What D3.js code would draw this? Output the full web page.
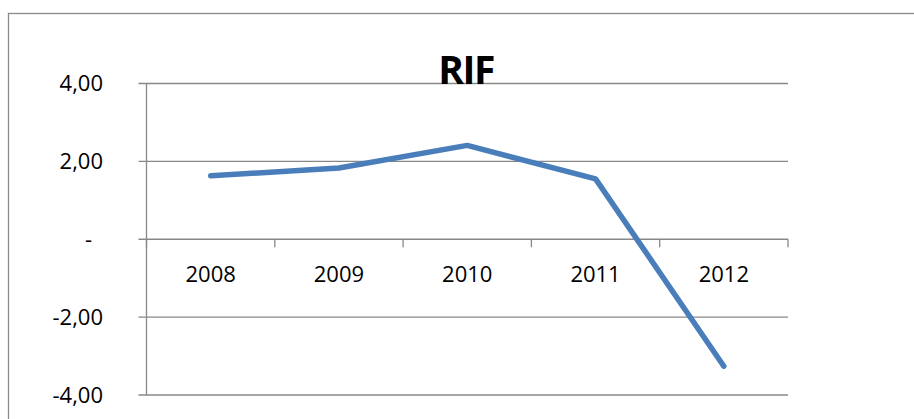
<!DOCTYPE html>
<html>
<head>
<meta charset="utf-8">
<script src="https://cdn.jsdelivr.net/npm/d3@7"></script>
<style>
  body { margin: 0; background: #fff; }
  svg { display: block; }
  text { font-family: "Open Sans", "Liberation Sans", Arial, sans-serif; fill: #000; }
</style>
</head>
<body>
<div id="chart"></div>
<script>
// values
var years = ["2008", "2009", "2010", "2011", "2012"];
var rif = [1.63, 1.83, 2.41, 1.55, -3.26];
var yTicks = [-4, -2, 0, 2, 4];

var width = 914, height = 419;
var plotLeft = 146.5, plotRight = 788, plotTop = 83.5, plotBottom = 395;

var svg = d3.select("#chart")
    .append("svg")
    .attr("width", width)
    .attr("height", height);

// outer chart border (runs off the right and bottom edge)
svg.append("rect")
    .attr("x", 8.5)
    .attr("y", 13.5)
    .attr("width", 920)
    .attr("height", 430)
    .style("fill", "none")
    .style("stroke", "#8a8a8a")
    .style("stroke-width", 1.3);

var x = d3.scaleBand().domain(years).range([plotLeft, plotRight]);
var y = d3.scaleLinear().domain([-4, 4]).range([plotBottom, plotTop]);

var fmt = function(d) {
  if (d === 0) return "-";
  return d3.format(".2f")(d).replace(".", ",").replace("\u2212", "-");
};

// gridlines + left ticks
svg.selectAll("line.grid")
    .data(yTicks)
    .enter().append("line")
    .attr("class", "grid")
    .attr("x1", plotLeft - 8)
    .attr("x2", plotRight)
    .attr("y1", function(d) { return y(d); })
    .attr("y2", function(d) { return y(d); })
    .style("stroke", "#888")
    .style("stroke-width", 1.3);

// y axis line
svg.append("line")
    .attr("x1", plotLeft).attr("x2", plotLeft)
    .attr("y1", y(4)).attr("y2", y(-4))
    .style("stroke", "#888")
    .style("stroke-width", 1.3);

// y labels
svg.selectAll("text.ylab")
    .data(yTicks)
    .enter().append("text")
    .attr("class", "ylab")
    .attr("x", function(d) { return d === 0 ? 92 : 103; })
    .attr("y", function(d) { return y(d); })
    .attr("dy", "0.35em")
    .attr("text-anchor", "end")
    .style("font-size", "22px")
    .text(fmt);

// category ticks on the zero line
var bounds = years.map(function(d) { return x(d); }).concat([plotRight]);
svg.selectAll("line.xtick")
    .data(bounds)
    .enter().append("line")
    .attr("class", "xtick")
    .attr("x1", function(d) { return d; })
    .attr("x2", function(d) { return d; })
    .attr("y1", y(0))
    .attr("y2", y(0) + 8)
    .style("stroke", "#888")
    .style("stroke-width", 1.3);

// category labels
svg.selectAll("text.xlab")
    .data(years)
    .enter().append("text")
    .attr("class", "xlab")
    .attr("x", function(d) { return x(d) + x.bandwidth() / 2; })
    .attr("y", 282)
    .attr("text-anchor", "middle")
    .style("font-size", "22px")
    .text(function(d) { return d; });

// the series
var line = d3.line()
    .x(function(d, i) { return x(years[i]) + x.bandwidth() / 2; })
    .y(function(d) { return y(d); });

svg.append("path")
    .datum(rif)
    .attr("d", line)
    .style("fill", "none")
    .style("stroke", "#4a7ebb")
    .style("stroke-width", 5.5)
    .style("stroke-linejoin", "round")
    .style("stroke-linecap", "round");

// title
svg.append("text")
    .attr("x", 466)
    .attr("y", 84)
    .attr("text-anchor", "middle")
    .style("font-size", "39px")
    .style("font-weight", "bold")
    .style("letter-spacing", "-1.5px")
    .text("RIF");
</script>
</body>
</html>
